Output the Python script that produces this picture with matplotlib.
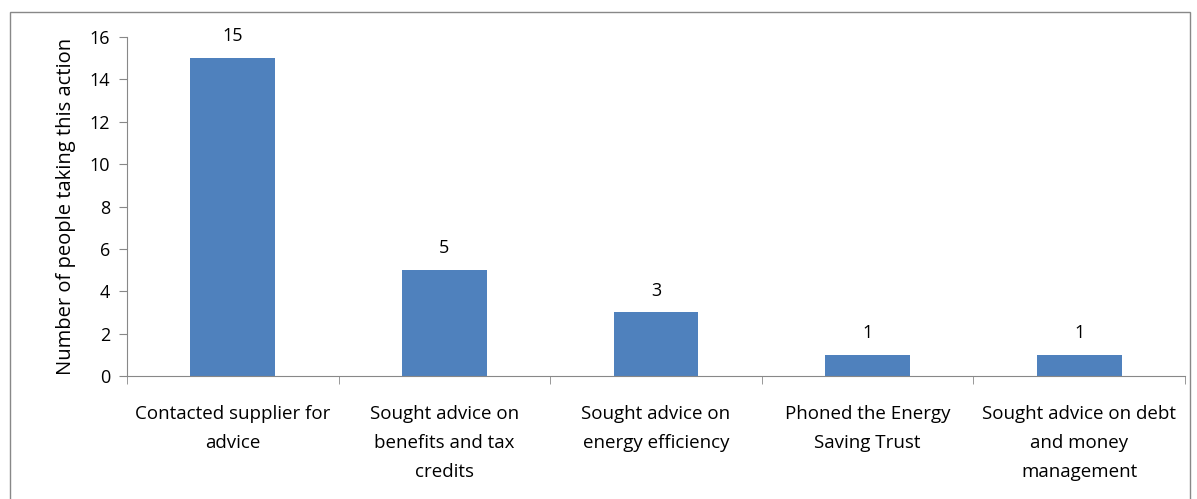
import numpy as np
import matplotlib.pyplot as plt
from matplotlib.patches import Rectangle

categories = ['Contacted supplier for\nadvice',
              'Sought advice on\nbenefits and tax\ncredits',
              'Sought advice on\nenergy efficiency',
              'Phoned the Energy\nSaving Trust',
              'Sought advice on debt\nand money\nmanagement']
counts = [15, 5, 3, 1, 1]
yticks = [0, 2, 4, 6, 8, 10, 12, 14, 16]

plt.rcParams['font.family'] = ['Open Sans', 'DejaVu Sans']

fig = plt.figure(figsize=(11.97, 4.99), dpi=100)
ax = fig.add_axes([127 / 1197, 1 - 376 / 499, 1058 / 1197, 339 / 499])

# outer chart border
fig.patches.append(Rectangle((10 / 1197, -0.02), 1180 / 1197, 1.02 - 12 / 499,
                             transform=fig.transFigure, fill=False,
                             edgecolor='#888888', linewidth=1))

x = np.arange(len(categories))
ax.bar(x, counts, width=0.4, color='#4F81BD')
for xi, c in zip(x, counts):
    ax.text(xi, c + 0.6, str(c), ha='center', va='bottom', fontsize=13)

ax.set_xlim(-0.5, len(categories) - 0.5)
ax.set_ylim(0, 16)
ax.set_yticks(yticks)
ax.tick_params(axis='y', labelsize=13, color='#888888', length=6, direction='out', pad=6)
ax.set_xticks(x)
ax.set_xticklabels(categories, fontsize=13.5, linespacing=1.78)
ax.tick_params(axis='x', length=0, pad=21)
# category boundary ticks
ax.set_xticks(np.arange(-0.5, len(categories)), minor=True)
ax.tick_params(axis='x', which='minor', length=6, color='#888888', direction='out')

ax.set_ylabel('Number of people taking this action', fontsize=14.5, labelpad=10)

for s in ['top', 'right']:
    ax.spines[s].set_visible(False)
for s in ['left', 'bottom']:
    ax.spines[s].set_color('#888888')

fig.savefig('out.png', dpi=100)
